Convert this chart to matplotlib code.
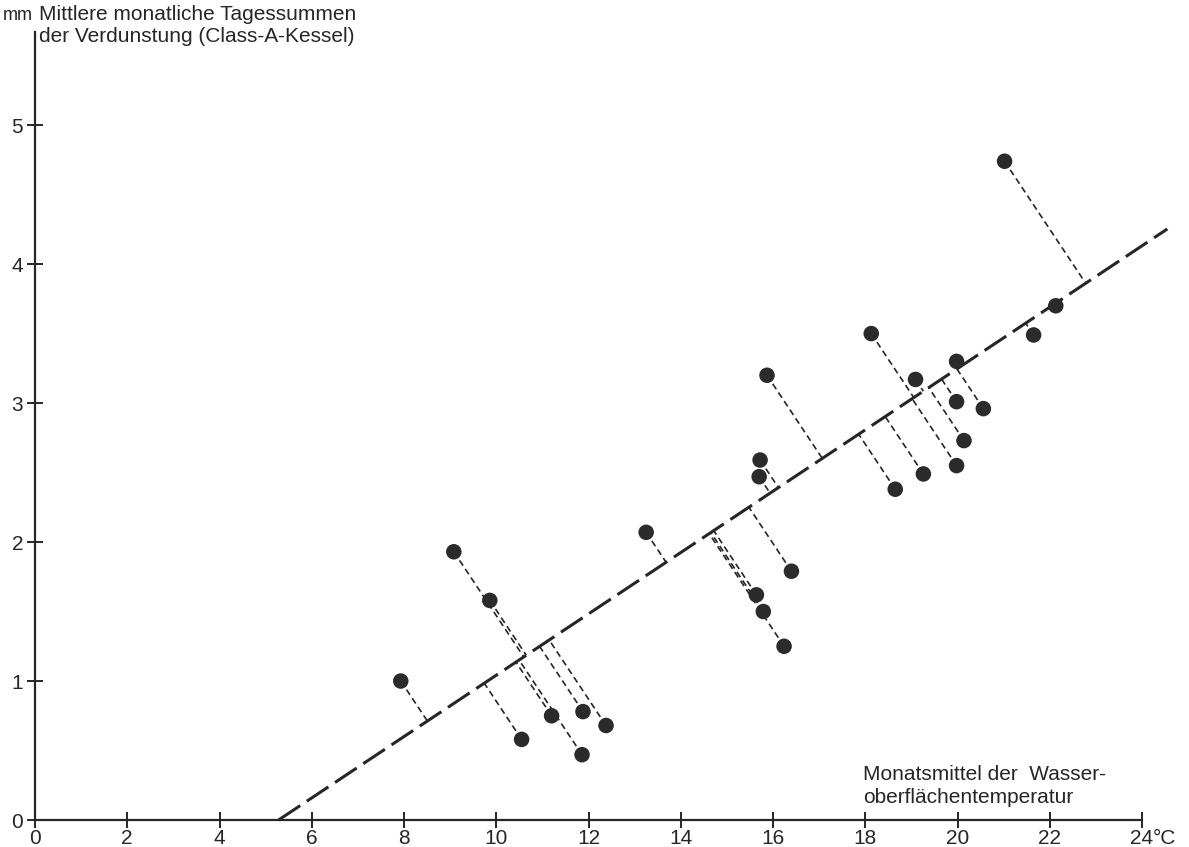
import numpy as np
import matplotlib
matplotlib.use('Agg')
import matplotlib.pyplot as plt

plt.rcParams['font.family'] = ['Liberation Sans', 'DejaVu Sans']

# monthly mean water surface temperature (deg C) and class-A pan evaporation (mm/day)
temp = [7.93, 9.08, 9.86, 10.55, 11.2, 11.88, 11.86, 12.38, 13.25,
        15.64, 15.79, 16.24, 16.4, 15.7, 15.72, 15.87,
        18.65, 19.26, 18.13, 19.09, 19.98, 19.98, 19.98, 20.14, 20.56,
        21.02, 21.65, 22.13]
evap = [1.0, 1.93, 1.58, 0.58, 0.75, 0.78, 0.47, 0.68, 2.07,
        1.62, 1.50, 1.25, 1.79, 2.47, 2.59, 3.20,
        2.38, 2.49, 3.50, 3.17, 3.30, 3.01, 2.55, 2.73, 2.96,
        4.74, 3.49, 3.70]

# regression line: y = slope * (x - x0)
reg_x0 = 5.28
reg_slope = 0.2207
reg_xend = 24.55

xticks = [0, 2, 4, 6, 8, 10, 12, 14, 16, 18, 20, 22, 24]
yticks = [0, 1, 2, 3, 4, 5]

fig = plt.figure(figsize=(11.89, 8.47), dpi=100)
ax = fig.add_axes([35 / 1189, 27 / 847, 1107 / 1189, 788 / 847])
ax.set_xlim(0, 24)
ax.set_ylim(0, 5.67)

ink = '#262626'
fs = 15

# regression line
lx = np.array([reg_x0, reg_xend])
ly = reg_slope * (lx - reg_x0)
ax.plot(lx, ly, color=ink, lw=2.2, linestyle=(0, (8.5, 2.6)), clip_on=False, zorder=3)

# perpendicular distances (drawn perpendicular on the page)
fig.canvas.draw()
A = ax.transData.transform((lx[0], ly[0]))
B = ax.transData.transform((lx[1], ly[1]))
d = (B - A) / np.linalg.norm(B - A)
for x, y in zip(temp, evap):
    P = ax.transData.transform((x, y))
    F = A + np.dot(P - A, d) * d
    fx, fy = ax.transData.inverted().transform(F)
    ax.plot([x, fx], [y, fy], color=ink, lw=1.2, linestyle=(0, (3.8, 2.4)), zorder=2)

ax.scatter(temp, evap, s=125, color='#2b2b2b', zorder=4, edgecolors='none')

for s in ['top', 'right']:
    ax.spines[s].set_visible(False)
for s in ['left', 'bottom']:
    ax.spines[s].set_color(ink)
    ax.spines[s].set_linewidth(1.6)

ax.set_xticks(xticks)
ax.set_xticklabels([str(t) for t in xticks])
ax.set_yticks(yticks)
ax.set_yticklabels([str(t) for t in yticks])
ax.tick_params(direction='inout', length=11, width=1.4, color=ink,
               labelsize=fs, labelcolor=ink)
ax.tick_params(axis='x', pad=1)
ax.tick_params(axis='y', pad=3)

ax.annotate('°C', xy=(24, 0), xytext=(7.5, -6.5), textcoords='offset points',
            fontsize=fs, color=ink, ha='left', va='top', annotation_clip=False)

fig.text(3 / 1189, 1 - 20 / 847, 'mm', fontsize=13, color=ink, va='baseline')
fig.text(39 / 1189, 1 - 20 / 847, 'Mittlere monatliche Tagessummen',
         fontsize=fs, color=ink, va='baseline')
fig.text(39 / 1189, 1 - 42 / 847, 'der Verdunstung (Class-A-Kessel)',
         fontsize=fs, color=ink, va='baseline')

ax.text(17.95, 0.245, 'Monatsmittel der  Wasser-\noberflächentemperatur',
        fontsize=fs, color=ink, ha='left', va='center', linespacing=1.25)

fig.savefig('out.png', dpi=100, facecolor='white')
